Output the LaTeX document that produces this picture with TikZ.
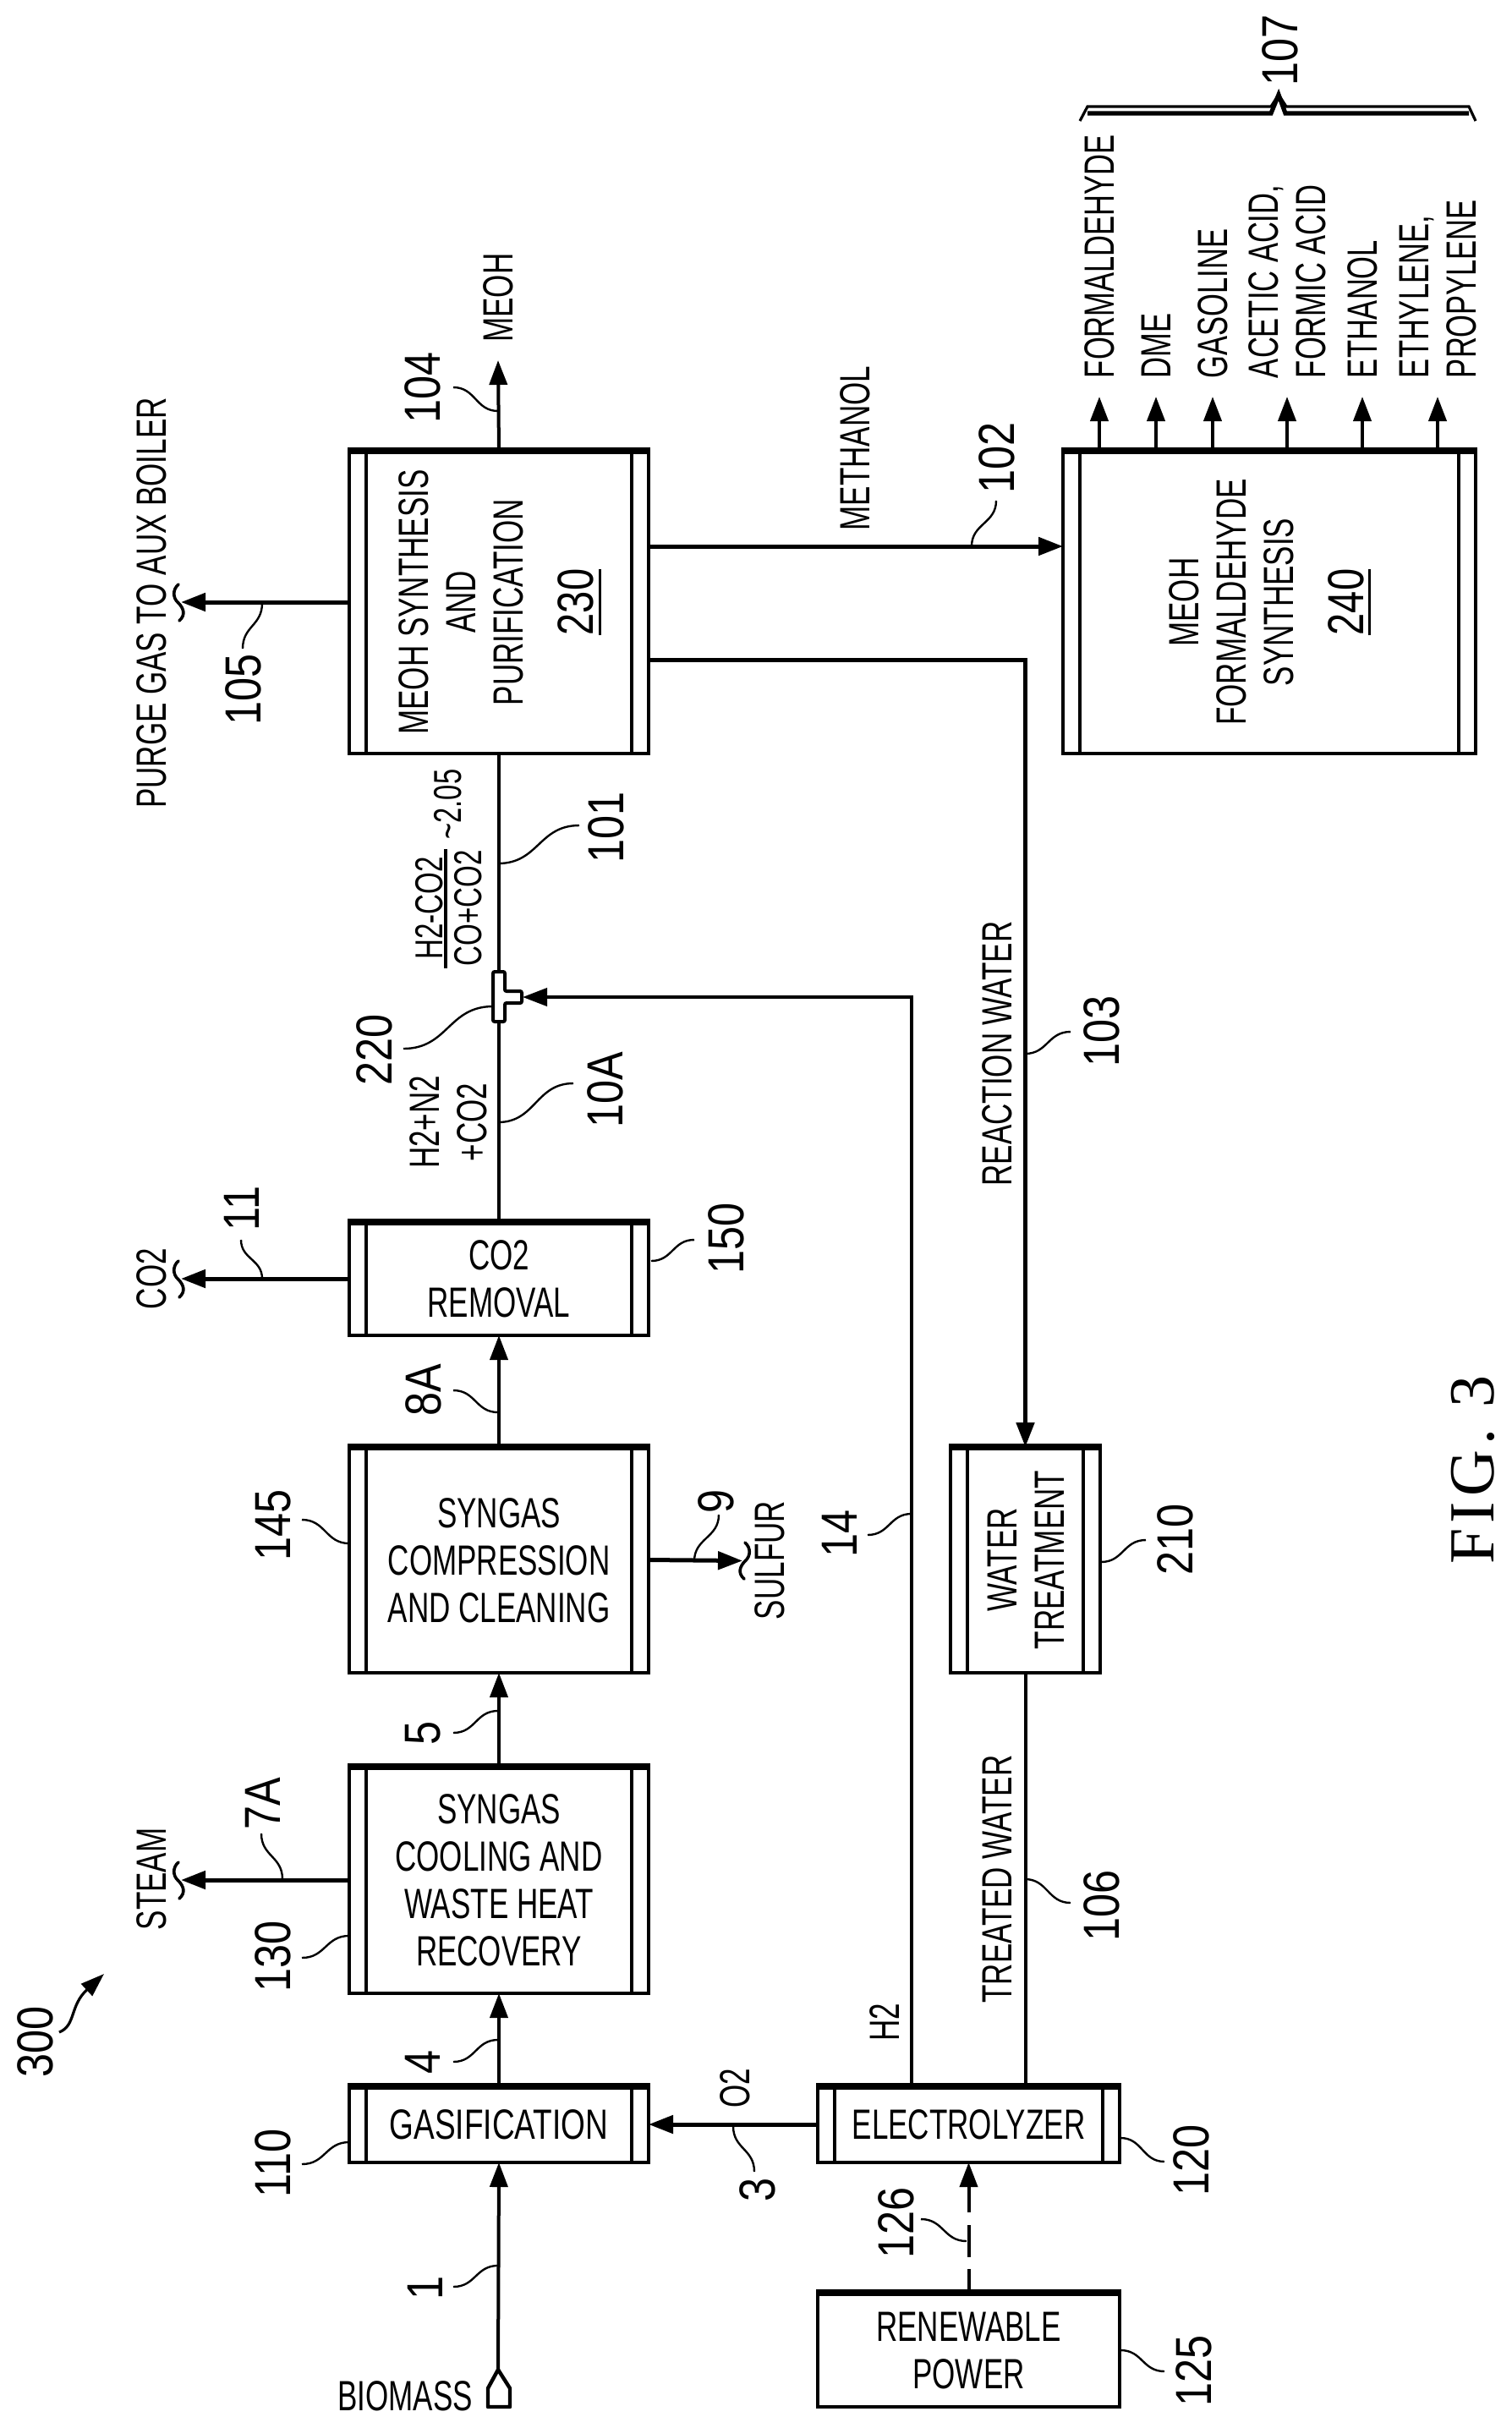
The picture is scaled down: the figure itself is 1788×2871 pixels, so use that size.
\documentclass[tikz,border=0pt]{standalone}
\usepackage{fontspec}
\usepackage{graphicx}
\usetikzlibrary{arrows.meta,calc}
\setmainfont{Liberation Sans}
\newfontfamily\figf[LetterSpace=8]{Liberation Serif}
\newsavebox\ulbox
\newcommand\myul[1]{\sbox\ulbox{#1}\rlap{\rule[-4.6pt]{\wd\ulbox}{1.6pt}}\usebox\ulbox}
\newcommand\adj[2]{\raisebox{0pt}[\dimexpr\height+#1\relax][\depth]{#2}}
\newcommand\hb[2][.70]{\scalebox{#1}[1]{\adj{6.7pt}{\begin{tabular}{@{}c@{}}#2\end{tabular}}}}
\newcommand\vb[2][.70]{\rotatebox{90}{\hb[#1]{#2}}}
\newcommand\vbl[2][.69]{\rotatebox{90}{\scalebox{#1}[1]{\adj{6.7pt}{\begin{tabular}{@{}l@{}}#2\end{tabular}}}}}
\newcommand\nb[1]{\rotatebox{90}{\scalebox{.84}[1]{\adj{7.8pt}{\begin{tabular}{@{}c@{}}#1\end{tabular}}}}}
\newcommand\bignum[1]{{\fontsize{30}{34}\selectfont\scalebox{1.12}[1]{\myul{#1}}}\rule[-12.4pt]{0pt}{1pt}}
\tikzset{
  txt/.style={inner sep=0pt,outer sep=0pt,font=\fontsize{25}{28}\selectfont},
  small/.style={inner sep=0pt,outer sep=0pt,font=\fontsize{23}{26}\selectfont},
  num/.style={inner sep=0pt,outer sep=0pt,font=\fontsize{30}{34}\selectfont},
  pbox/.style={draw,line width=2.2pt,inner sep=0pt,outer sep=0pt,font=\fontsize{25}{28}\selectfont},
  topbar/.style={line width=4pt,line cap=butt},
  bar/.style={line width=2pt},
  flow/.style={line width=2pt},
  heavy/.style={line width=2.5pt},
  tipped/.style={-{Triangle[length=14.5pt,width=10.5pt]}},
  leader/.style={line width=1.2pt},
  squigline/.style={line width=1.8pt,line cap=round}
}
\newcommand\pb[6]{\node[pbox,minimum width={(#3-#2)*.5pt},minimum height={(#5-#4)*.5pt}] (#1) at ({(#2+#3)/2},{(#4+#5)/2}) {#6};
  \draw[topbar] ([xshift=-1pt]#1.north west)--([xshift=1pt]#1.north east);}
\newcommand\barred[1]{\draw[bar] ([xshift=10pt]#1.north west)--([xshift=10pt]#1.south west);
  \draw[bar] ([xshift=-10pt]#1.north east)--([xshift=-10pt]#1.south east);}
\newcommand\rl[4]{\node[txt] (#1) at (#2,#3) {\vb{#4}};}
\newcommand\nl[4]{\node[num] (#1) at (#2,#3) {\nb{#4}};}
\newcommand\ldh[4]{\draw[leader] (#1,#2) .. controls ({(#1+#3)/2},#2) and ({(#1+#3)/2},#4) .. (#3,#4);}
\newcommand\ldv[4]{\draw[leader] (#1,#2) .. controls (#1,{(#2+#4)/2}) and (#3,{(#2+#4)/2}) .. (#3,#4);}
\newcommand\squig[3]{\begin{scope}[shift={(#1,#2)},xscale=#3]
  \draw[squigline] (-3,-21) .. controls (-10,-15) and (-10,-5) .. (-3,1) .. controls (3,7) and (6,15) .. (-2,22);
  \end{scope}}
\begin{document}
\begin{tikzpicture}[x=.5pt,y=-.5pt]
\useasboundingbox (0,0) rectangle (1788,2871);
% process boxes
\pb{gas}{413}{767}{2467}{2557}{\hb[.74]{GASIFICATION}}
\pb{cool}{413}{767}{2089}{2357}{\hb{SYNGAS\\COOLING AND\\WASTE HEAT\\RECOVERY}}
\pb{comp}{413}{767}{1711}{1978}{\hb{SYNGAS\\COMPRESSION\\AND CLEANING}}
\pb{rem}{413}{767}{1445}{1579}{\hb{CO2\\REMOVAL}}
\pb{syn}{413}{767}{533}{891}{\vb{MEOH SYNTHESIS\\AND\\PURIFICATION\\[12.5pt]\bignum{230}}}
\pb{form}{1257}{1745}{533}{891}{\vb{MEOH\\FORMALDEHYDE\\SYNTHESIS\\[12pt]\bignum{240}}}
\pb{wat}{1124}{1301}{1711}{1978}{\vb{WATER\\TREATMENT}}
\pb{ele}{967}{1324}{2467}{2557}{\hb{ELECTROLYZER}}
\pb{ren}{967}{1324}{2711}{2846}{\hb{RENEWABLE\\POWER}}
\barred{gas}\barred{cool}\barred{comp}\barred{rem}\barred{syn}\barred{form}\barred{wat}\barred{ele}
% tee and free ends
\node[inner sep=0pt,minimum width=7pt,minimum height=29.5pt] (tee) at (590,1178.5) {};
\coordinate (bio) at (589,2802);
\coordinate (teearm) at (618,1179);
\coordinate (steamend) at (214,2223);
\coordinate (co2end) at (214,1512);
\coordinate (purgeend) at (214,712);
\coordinate (sulend) at (878,1845.5);
\coordinate (meohend) at (589,426);
\coordinate (r102) at (0,646);
\coordinate (r103) at (0,780);
\coordinate (c14) at (1078,0);
% main train
\draw[flow,tipped] (bio)--(gas.south);
\draw[flow,tipped] (gas.north)--(cool.south);
\draw[flow,tipped] (cool.north)--(comp.south);
\draw[flow,tipped] (comp.north)--(rem.south);
\draw[flow] (rem.north)--(tee.south);
\draw[flow] (tee.north)--(syn.south);
\draw[flow,tipped] (syn.north)--(meohend);
% side streams
\draw[heavy,tipped] (syn.west)--(purgeend);
\draw[heavy,tipped] (rem.west)--(co2end);
\draw[heavy,tipped] (cool.west)--(steamend);
\draw[heavy,tipped] (comp.east)--(sulend);
\draw[heavy,tipped] (ele.west)--(gas.east);
\draw[heavy,tipped] (syn.east |- r102)--(form.west |- r102);
\draw[heavy,tipped] (syn.east |- r103) -| (wat.north);
\draw[flow] (wat.south)--(wat.south |- ele.north);
\draw[flow,tipped] (ele.north -| c14) |- (teearm);
\draw[flow,tipped,dash pattern=on 14pt off 7pt on 19pt off 7.5pt on 60pt] (ren.north)--(ele.south);
% outputs of 240
\foreach \n/\xx in {a/1300,b/1367,c/1434,d/1522,e/1611,f/1700}{
  \coordinate (o\n) at (\xx,469);
  \draw[flow,tipped] (form.north -| o\n)--(o\n);
}
% tee outline
\draw[line width=2pt,fill=white,rounded corners=1pt] (583,1149)--(597,1149)--(597,1172)--(617,1172)--(617,1186)--(597,1186)--(597,1208)--(583,1208)--cycle;
% biomass marker
\draw[line width=2.2pt,line join=round] (bio)--(603,2824)--(603,2846)--(577,2846)--(577,2824)--cycle;
% squiggle breaks
\squig{214}{2223}{1}
\squig{214}{1512}{1}
\squig{214}{712}{1}
\squig{878}{1845}{-1}
% stream text
\rl{tsteam}{179}{2222}{STEAM}
\rl{tco2}{179}{1512}{CO2}
\rl{tpurge}{179}{713}{PURGE GAS TO AUX BOILER}
\rl{tsul}{910}{1845}{SULFUR}
\rl{tmeoh}{589}{352}{MEOH}
\rl{tmethanol}{1011}{530}{METHANOL}
\rl{ttreated}{1179}{2222}{TREATED WATER}
\rl{treaction}{1179}{1246}{REACTION WATER}
\rl{th2}{1046}{2391}{H2}
\rl{to2}{869}{2469}{O2}
\node[txt] (tbio) at (479,2833) {\hb{BIOMASS}};
\node[txt] (thn) at (530,1327) {\vb{H2+N2\\+CO2}};
\node[small] (tfa) at (506,1074) {\vb[.72]{H2-CO2}};
\node[small] (tfb) at (552,1074) {\vb[.72]{CO+CO2}};
\draw[line width=1.6pt] (527,1004)--(527,1145);
\node[small] (tfc) at (528,951) {\vb[.71]{\textasciitilde 2.05}};
\foreach \n/\xx/\tt in {a/1300/FORMALDEHYDE,b/1367/DME,c/1434/GASOLINE,f/1611/ETHANOL}{
  \node[txt,anchor=south] (p\n) at (\xx,447) {\vbl{\tt}};
}
\node[txt,anchor=south] (pd) at (1522,447) {\vbl{ACETIC ACID,\\FORMIC ACID}};
\node[txt,anchor=south] (pe) at (1700,447) {\vbl{ETHYLENE,\\PROPYLENE}};
% reference numerals
\nl{n1}{502}{2705}{1}\ldh{536}{2704}{589}{2679}
\nl{n4}{499}{2438}{4}\ldh{536}{2438}{589}{2412}
\nl{n5}{499}{2049}{5}\ldh{536}{2049}{589}{2023}
\nl{n7a}{310}{2133}{7A}\ldv{309}{2168}{334}{2222}
\nl{n130}{322}{2313}{130}\ldh{357}{2315}{413}{2289}
\nl{n300}{41}{2414}{300}
\draw[line width=1.6pt,-{Triangle[length=14pt,width=9.5pt]}] (70,2403) .. controls (90,2395) and (82,2372) .. (123,2334);
\nl{n106}{1302}{2253}{106}\ldh{1266}{2250}{1212}{2222}
\nl{n3}{895}{2589}{3}\ldv{892}{2568}{867}{2514}
\nl{n110}{322}{2558}{110}\ldh{357}{2559}{413}{2533}
\nl{n120}{1408}{2554}{120}\ldh{1377}{2556}{1325}{2528}
\nl{n126}{1059}{2628}{126}\ldh{1089}{2624}{1143}{2650}
\nl{n125}{1411}{2803}{125}\ldh{1377}{2804}{1325}{2779}
\nl{n8a}{500}{1644}{8A}\ldh{536}{1644}{589}{1670}
\nl{n11}{285}{1429}{11}\ldv{285}{1466}{310}{1512}
\nl{n150}{858}{1464}{150}\ldh{821}{1466}{770}{1491}
\nl{n145}{322}{1803}{145}\ldh{357}{1797}{413}{1825}
\nl{n9}{846}{1775}{9}\ldv{850}{1791}{821}{1846}
\nl{n14}{992}{1813}{14}\ldh{1026}{1815}{1078}{1790}
\nl{n210}{1389}{1820}{210}\ldh{1355}{1821}{1302}{1847}
\nl{n103}{1302}{1219}{103}\ldh{1266}{1220}{1212}{1246}
\nl{n220}{442}{1241}{220}\ldh{477}{1240}{583}{1190}
\nl{n10a}{715}{1289}{10A}\ldh{678}{1281}{589}{1327}
\nl{n101}{716}{978}{101}\ldh{685}{976}{589}{1021}
\nl{n104}{499}{458}{104}\ldh{536}{458}{589}{486}
\nl{n105}{287}{815}{105}\ldv{287}{767}{310}{713}
\nl{n102}{1178}{541}{102}\ldv{1178}{592}{1149}{646}
\nl{n107}{1513}{59}{107}
% brace 107
\draw[line width=1.6pt,line join=miter] (1277,143)--(1286,126)--(1503,126)--(1512,112)--(1521,126)--(1737,126)--(1745,143);
\draw[line width=2.6pt] (1286,134)--(1503,134)--(1512,112)--(1520,134)--(1737,134);
% figure label
\node[inner sep=0pt,font=\fontsize{38}{42}\selectfont\figf] (fig) at (1742,1738) {\rotatebox{90}{FIG. 3}};
\end{tikzpicture}
\end{document}
